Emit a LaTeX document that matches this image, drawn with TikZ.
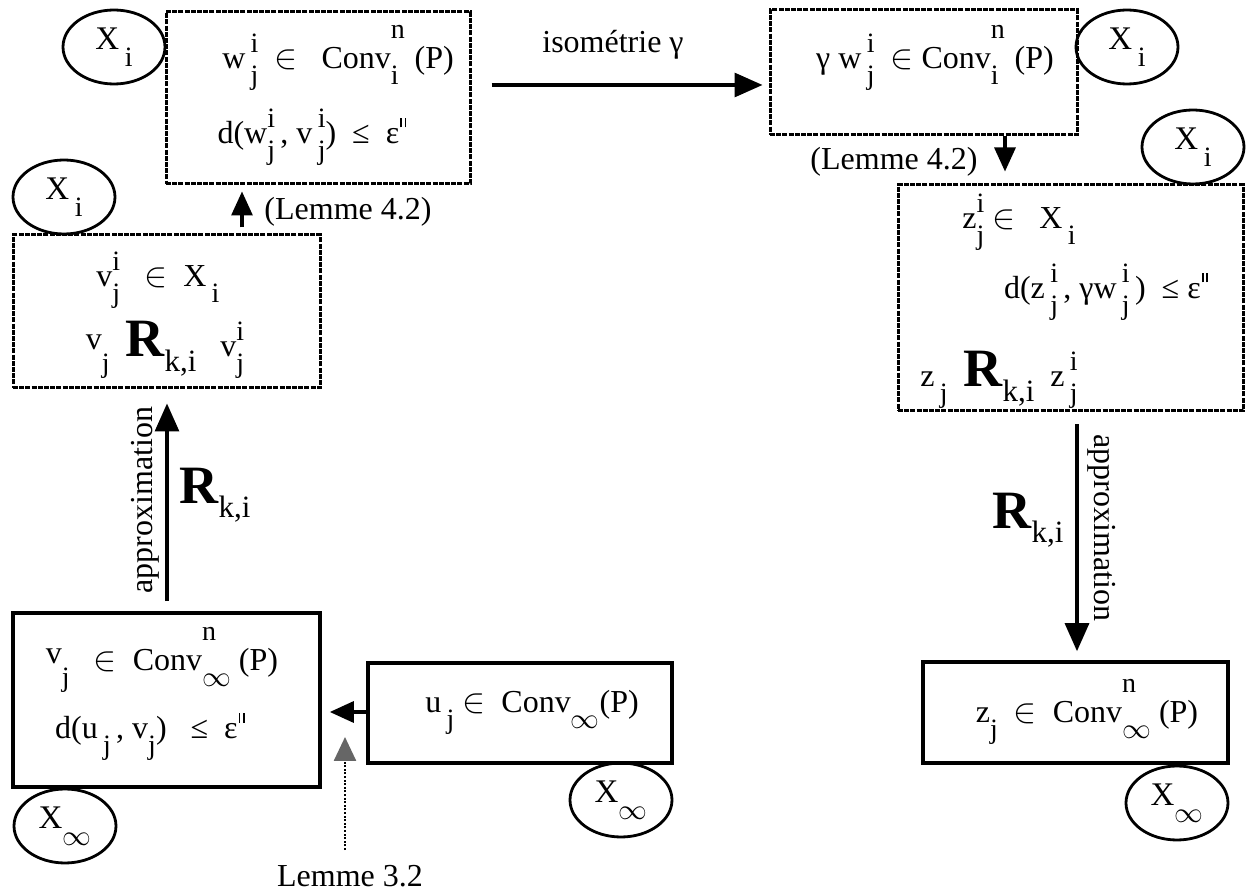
\documentclass[tikz,border=0pt]{standalone}
\usepackage{fontspec}
\setmainfont{Liberation Serif}
\usetikzlibrary{arrows.meta,shapes.geometric}
\newcommand\sm{\fontsize{14}{14}\selectfont}
\newcommand\ud[3][0.5em]{\rlap{\raisebox{#1}{\sm #2}}\raisebox{-0.5em}{\sm #3}}
\newcommand\dn[1]{\raisebox{-0.5em}{\sm #1}}
\newcommand\dnb[1]{\raisebox{-0.45em}{\fontsize{15.5}{16}\selectfont #1}}
\newcommand\BR{{\fontsize{27}{27}\selectfont\bfseries R}}
\newcommand\dq{\kern0.6pt\raisebox{0.5em}{\rule{0.8pt}{0.3em}\kern1.4pt\rule{0.8pt}{0.3em}}}
\newcommand\rv{\raisebox{0.22em}{v}}
\tikzset{
  txt/.style={font=\fontsize{16}{19}\selectfont, inner sep=0pt},
  dbox/.style={draw, line width=1.5pt, dash pattern=on 2.5pt off 0.6pt, inner sep=0pt},
  sbox/.style={draw, line width=1.8pt, inner sep=0pt},
  ell/.style={draw, ellipse, line width=1.4pt, minimum width=51pt, minimum height=37pt, inner sep=0pt, font=\fontsize{16.5}{19}\selectfont},
  big/.style={-{Triangle[length=14pt,width=12pt]}, line width=1.6pt},
  small/.style={-{Triangle[length=12pt,width=10.5pt]}, line width=1.6pt},
}
\begin{document}
\begin{tikzpicture}[x=0.5pt,y=-0.5pt]
\useasboundingbox (0,0) rectangle (1250,893);
% boxes
\node[dbox, minimum width=152pt, minimum height=86pt] (A) at (318,98) {};
\node[dbox, minimum width=153.5pt, minimum height=62.5pt] (B) at (923.5,72.5) {};
\node[dbox, minimum width=172.5pt, minimum height=113pt] (C) at (1070.5,298) {};
\node[sbox, minimum width=152.5pt, minimum height=50.5pt] (D) at (1075.5,712.5) {};
\node[dbox, minimum width=153.5pt, minimum height=76.5pt] (E) at (166.5,311.5) {};
\node[sbox, minimum width=153.5pt, minimum height=87pt] (F) at (166.5,700) {};
\node[sbox, minimum width=152pt, minimum height=50pt] (G) at (520,713) {};
% ellipses
\node[ell] (e1) at (114,47) {X\,\dn{i}};
\node[ell] (e2) at (64,197) {X\,\dn{i}};
\node[ell] (e3) at (1127,47) {X\,\dn{i}};
\node[ell] (e4) at (1193,147) {X\,\dn{i}};
\node[ell] (e5) at (65,826) {X\dn{$\infty$}};
\node[ell] (e6) at (621,800) {X\dn{$\infty$}};
\node[ell] (e7) at (1177,803) {X\dn{$\infty$}};
% texts in boxes
\node[txt] (a1) at (338,58) {w\,\ud{i}{j}\ \ $\in$\ \ \ Conv\ud[0.95em]{n}{i}\ \ (P)};
\node[txt] (a2) at (312,137) {d(w\ud{i}{j}\,, v\,\ud{i}{j})\ \ ≤\ \ ε\dq};
\node[txt] (b1) at (935,58) {γ w\,\ud{i}{j}\ \ $\in$ Conv\ud[0.95em]{n}{i}\ \ (P)};
\node[txt] (c1) at (1019,222) {z\ud{i}{j} $\in$\ \ \ X\,\dn{i}};
\node[txt] (c2) at (1106,292) {d(z\,\ud{i}{j}\,, γw\,\ud{i}{j}\,)\ \ ≤ ε\dq};
\node[txt] (c3) at (999,380) {z\,\dn{j}\ \ \BR\dnb{k,i}\ \ z\,\ud{i}{j}};
\node[txt] (d1) at (1087,712) {z\dn{j}\ \ $\in$\ \ Conv\ud[0.95em]{n}{$\infty$}\ (P)};
\node[txt] (e1t) at (158,280) {v\ud{i}{j}\ \ \ $\in$\ \ X\,\dn{i}};
\node[txt] (e2t) at (165,350) {\rv\dn{j}\ \ \BR\dnb{k,i}\ \ \ v\ud{i}{j}};
\node[txt] (f1) at (162,660) {\rv\dn{j}\ \ \ $\in$\ \ Conv\ud[0.95em]{n}{$\infty$}\ (P)};
\node[txt] (f2) at (150,737) {d(u\,\dn{j}\,, v\dn{j})\ \ \ ≤\ \ ε\dq};
\node[txt] (g1) at (532,712) {u\,\dn{j}\ $\in$\ \ Conv\dn{$\infty$}(P)};
% arrow coordinates
\coordinate (ab) at (0,85);
\coordinate (bc) at (1005,0);
\coordinate (ea) at (242,0);
\coordinate (fe) at (167,0);
\coordinate (cd) at (1077,0);
\coordinate (gf) at (0,712);
\coordinate (l32s) at (345,850);
\coordinate (l32e) at (345,737);
\draw[big, shorten <=10pt, shorten >=3pt] (A.east |- ab) -- (B.west |- ab);
\draw[small, shorten >=6pt] (B.south -| bc) -- (C.north -| bc);
\draw[small, shorten <=3pt, shorten >=3pt] (E.north -| ea) -- (A.south -| ea);
\draw[big, shorten <=5pt, shorten >=7pt] (F.north -| fe) -- (E.south -| fe);
\draw[big, shorten <=6pt, shorten >=4.5pt] (C.south -| cd) -- (D.north -| cd);
\draw[small, shorten >=4pt] (G.west |- gf) -- (F.east |- gf);
\draw[line width=1.3pt, dash pattern=on 1pt off 0.8pt, -{Triangle[length=12pt,width=11pt,color=black!60,fill=black!60]}] (l32s) -- (l32e);
% labels
\node[txt] (iso) at (613,45) {isométrie γ};
\node[txt] (lem1) at (348,212) {(Lemme 4.2)};
\node[txt] (lem2) at (894,162) {(Lemme 4.2)};
\node[txt] (lem3) at (350,876) {Lemme 3.2};
\node[txt] (rl) at (215,495) {\BR\dnb{k,i}};
\node[txt, rotate=90] (apl) at (145,500) {approximation};
\node[txt] (rr) at (1028,520) {\BR\dnb{k,i}};
\node[txt, rotate=-90] (apr) at (1102,528) {approximation};
\end{tikzpicture}
\end{document}
